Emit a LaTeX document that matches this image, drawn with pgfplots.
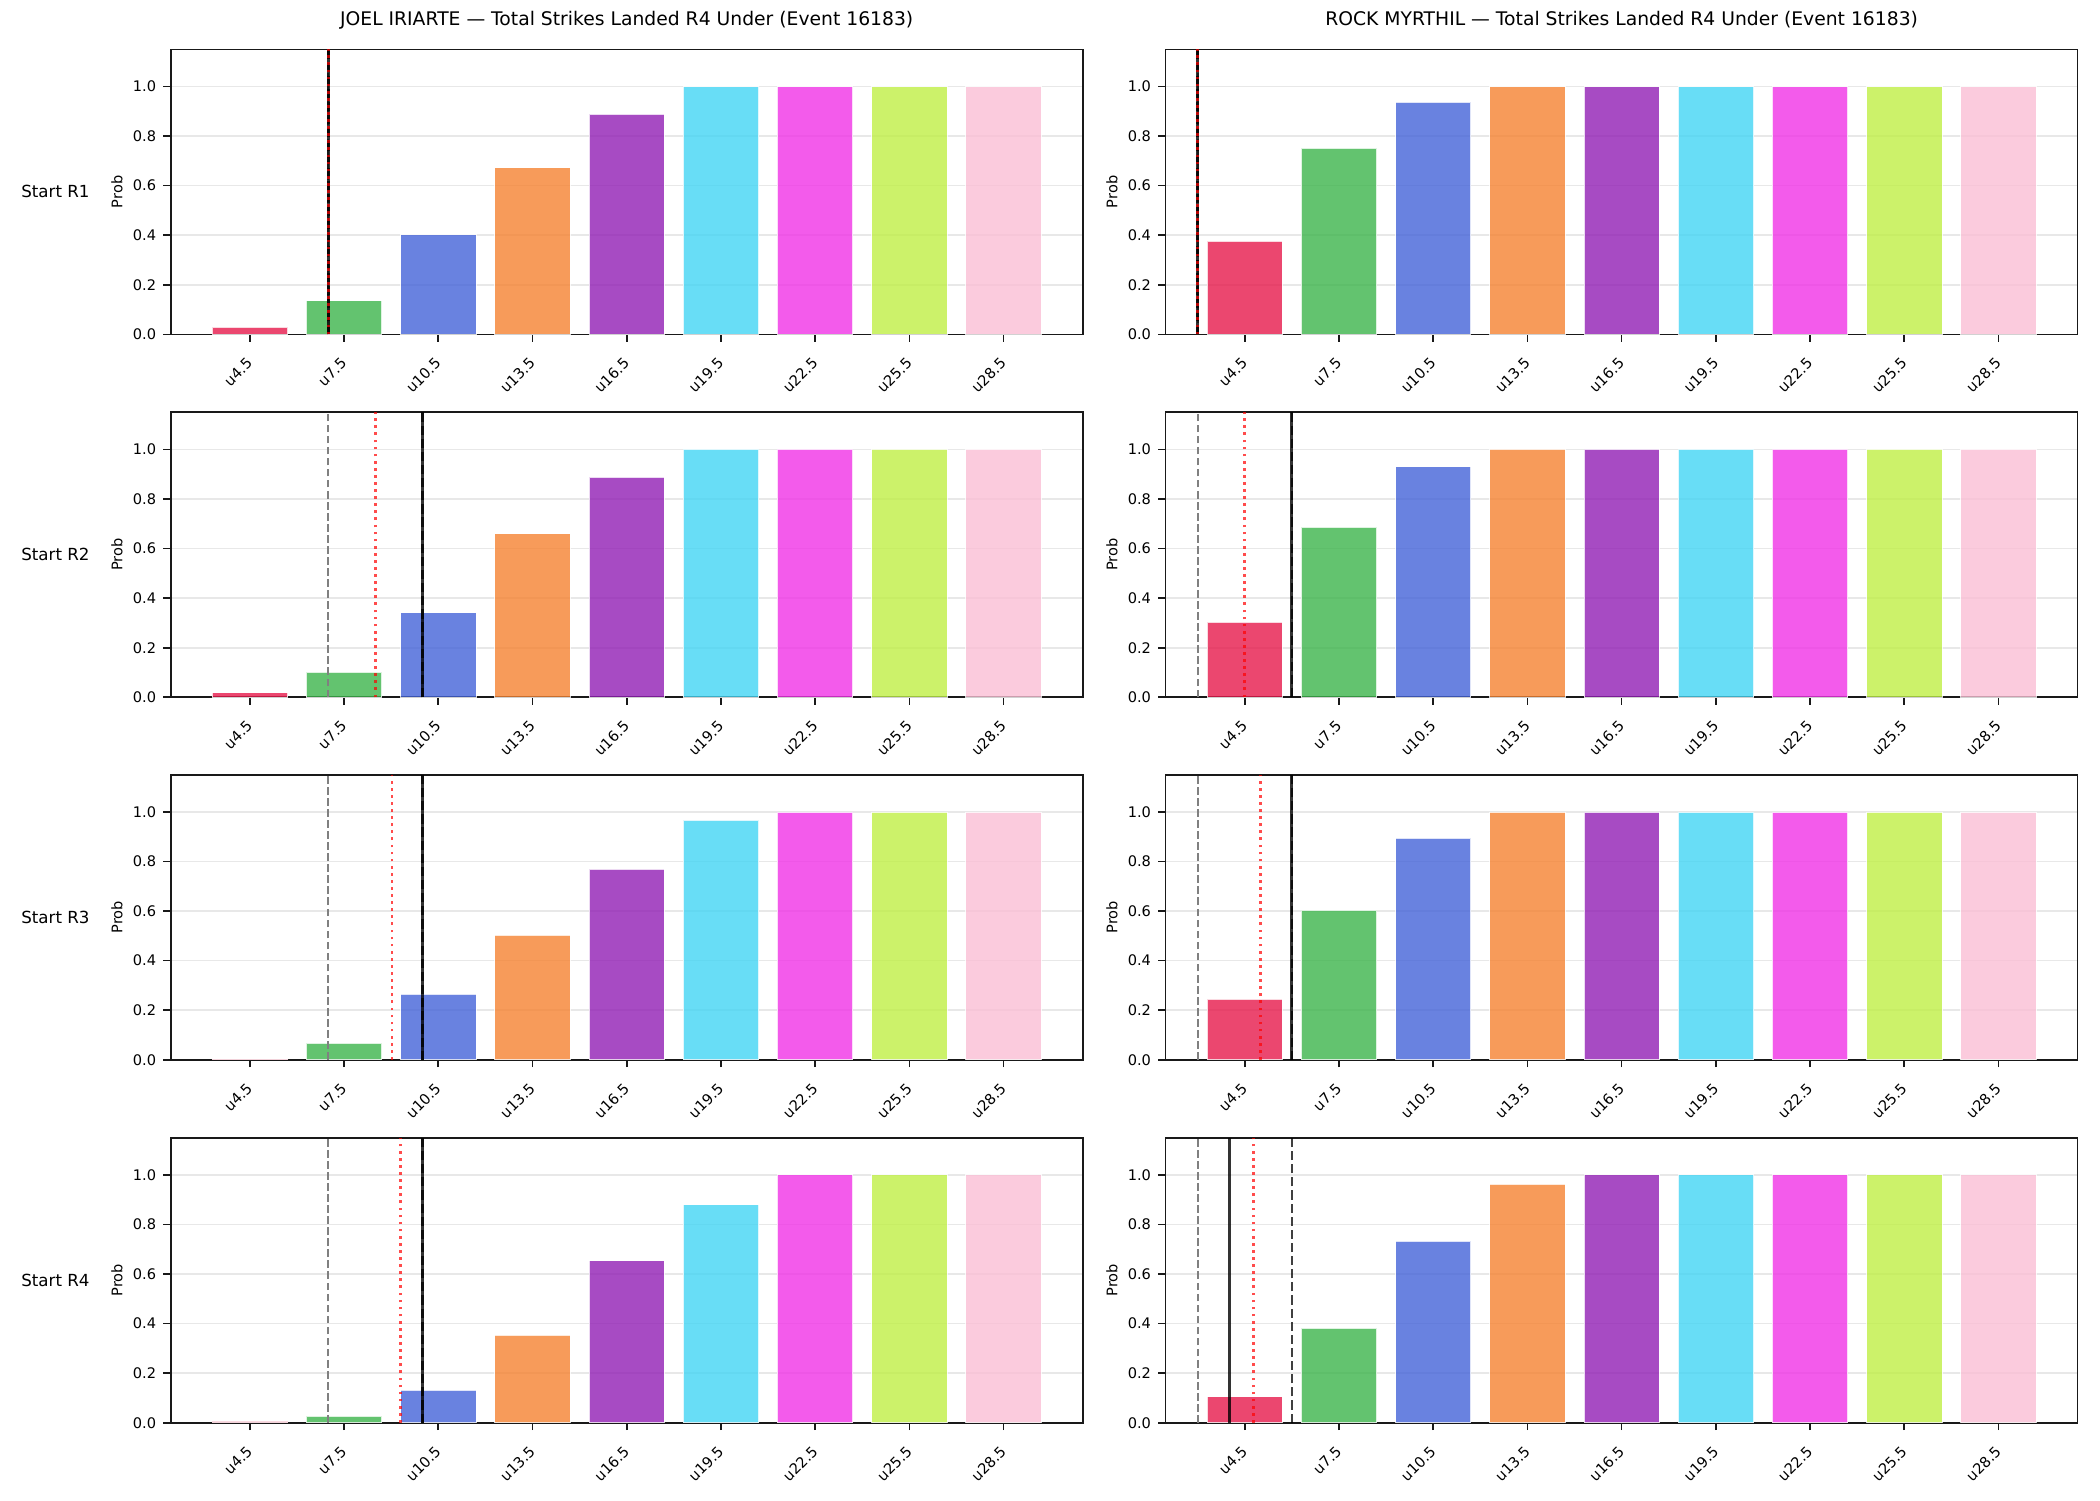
\documentclass[border=0pt]{standalone}
\usepackage{fontspec}
\setmainfont{DejaVu Sans}
\usepackage{pgfplots}
\pgfplotsset{compat=1.18}
\definecolor{c1}{HTML}{E6194B}
\definecolor{c2}{HTML}{3CB44B}
\definecolor{c3}{HTML}{4363D8}
\definecolor{c4}{HTML}{F58231}
\definecolor{c5}{HTML}{911EB4}
\definecolor{c6}{HTML}{42D4F4}
\definecolor{c7}{HTML}{F032E6}
\definecolor{c8}{HTML}{BFEF45}
\definecolor{c9}{HTML}{FABED4}
\pgfplotsset{
  panel/.style={
    scale only axis, width=437.76pt, height=136.8pt, anchor=south west,
    xmin=-0.84, xmax=8.84, ymin=0, ymax=1.15,
    xtick={0,1,2,3,4,5,6,7,8},
    xticklabels={u4.5,u7.5,u10.5,u13.5,u16.5,u19.5,u22.5,u25.5,u28.5},
    ytick={0,0.2,0.4,0.6,0.8,1.0},
    tick pos=left, tick align=outside, major tick length=3.5pt,
    axis line style={line width=0.8pt, black!90},
    every tick/.style={black!90, line width=0.8pt},
    ymajorgrids, grid style={black!9, line width=0.8pt},
    tick label style={font=\fontsize{7}{8}\selectfont},
    /pgf/number format/assume math mode=true,
    yticklabel style={/pgf/number format/.cd, fixed, fixed zerofill, precision=1},
    xticklabel style={xshift=-2pt, yshift=-5.5pt, rotate=45, anchor=north east, inner sep=1pt},
    ylabel={Prob},
    ylabel style={font=\fontsize{7}{8}\selectfont, at={(axis description cs:-0.0589,0.5)}, anchor=center},
    title style={font=\fontsize{9}{10}\selectfont, at={(axis description cs:0.5,1)}, anchor=base, yshift=5.3pt},
    clip=false,
  },
  barsty/.style={ybar, bar shift=0pt, bar width=0.8, fill opacity=0.8, draw=white, line width=0.4pt, draw opacity=0.8},
  gdash/.style={black!50, line width=1pt, dash pattern=on 3.7pt off 1.6pt},
  kdash/.style={black, opacity=0.75, line width=1.2pt, dash pattern=on 4.4pt off 1.9pt},
  rdot/.style={red, opacity=0.7, line width=1.3pt, dash pattern=on 1.3pt off 2.1pt},
  ksolid/.style={black, opacity=0.8, line width=1.4pt},
}
\newcommand{\bars}[9]{%
  \addplot[barsty, fill=c1] coordinates {(0,#1)};
  \addplot[barsty, fill=c2] coordinates {(1,#2)};
  \addplot[barsty, fill=c3] coordinates {(2,#3)};
  \addplot[barsty, fill=c4] coordinates {(3,#4)};
  \addplot[barsty, fill=c5] coordinates {(4,#5)};
  \addplot[barsty, fill=c6] coordinates {(5,#6)};
  \addplot[barsty, fill=c7] coordinates {(6,#7)};
  \addplot[barsty, fill=c8] coordinates {(7,#8)};
  \addplot[barsty, fill=c9] coordinates {(8,#9)};
}
% lines: gray dashed, black solid, black dashed, red dotted
\newcommand{\vlines}[4]{%
  \addplot[gdash] coordinates {(#1,0) (#1,1.15)};
  \addplot[ksolid] coordinates {(#2,0) (#2,1.15)};
  \addplot[kdash] coordinates {(#3,0) (#3,1.15)};
  \addplot[rdot] coordinates {(#4,0) (#4,1.15)};
}
\newcommand{\rowlabel}[1]{\node[anchor=east, inner sep=0pt, font=\fontsize{8}{9}\selectfont] at (axis description cs:-0.0885,0.5) {#1};}
\begin{document}
\begin{tikzpicture}
\path[use as bounding box] (0,0) rectangle (1008pt,720pt);
% ---- left column ----
\begin{axis}[panel, at={(81.94pt,559.5pt)}, title={JOEL IRIARTE — Total Strikes Landed R4 Under (Event 16183)}]
  \bars{0.030}{0.135}{0.402}{0.673}{0.888}{1.0}{1.0}{1.0}{1.0}
  \vlines{0.8333}{0.8333}{0.8333}{0.8333}
  \rowlabel{Start R1}
\end{axis}
\begin{axis}[panel, at={(81.94pt,385.3pt)}]
  \bars{0.018}{0.102}{0.342}{0.660}{0.887}{1.0}{1.0}{1.0}{1.0}
  \vlines{0.8333}{1.8333}{1.8333}{1.3333}
  \rowlabel{Start R2}
\end{axis}
\begin{axis}[panel, at={(81.94pt,211.3pt)}]
  \bars{0.003}{0.067}{0.265}{0.503}{0.770}{0.967}{1.0}{1.0}{1.0}
  \vlines{0.8333}{1.8333}{1.8333}{1.51}
  \rowlabel{Start R3}
\end{axis}
\begin{axis}[panel, at={(81.94pt,37.1pt)}]
  \bars{0.007}{0.027}{0.132}{0.354}{0.653}{0.880}{1.0}{1.0}{1.0}
  \vlines{0.8333}{1.8333}{1.8333}{1.60}
  \rowlabel{Start R4}
\end{axis}
% ---- right column ----
\begin{axis}[panel, at={(559.5pt,559.5pt)}, title={ROCK MYRTHIL — Total Strikes Landed R4 Under (Event 16183)}]
  \bars{0.375}{0.750}{0.937}{1.0}{1.0}{1.0}{1.0}{1.0}{1.0}
  \vlines{-0.5}{-0.5}{-0.5}{-0.5}
\end{axis}
\begin{axis}[panel, at={(559.5pt,385.3pt)}]
  \bars{0.302}{0.686}{0.931}{1.0}{1.0}{1.0}{1.0}{1.0}{1.0}
  \vlines{-0.5}{0.5}{0.5}{0.0}
\end{axis}
\begin{axis}[panel, at={(559.5pt,211.3pt)}]
  \bars{0.245}{0.603}{0.895}{1.0}{1.0}{1.0}{1.0}{1.0}{1.0}
  \vlines{-0.5}{0.5}{0.5}{0.1667}
\end{axis}
\begin{axis}[panel, at={(559.5pt,37.1pt)}]
  \bars{0.105}{0.382}{0.733}{0.962}{1.0}{1.0}{1.0}{1.0}{1.0}
  \vlines{-0.5}{-0.16}{0.5}{0.09}
\end{axis}
\end{tikzpicture}
\end{document}
